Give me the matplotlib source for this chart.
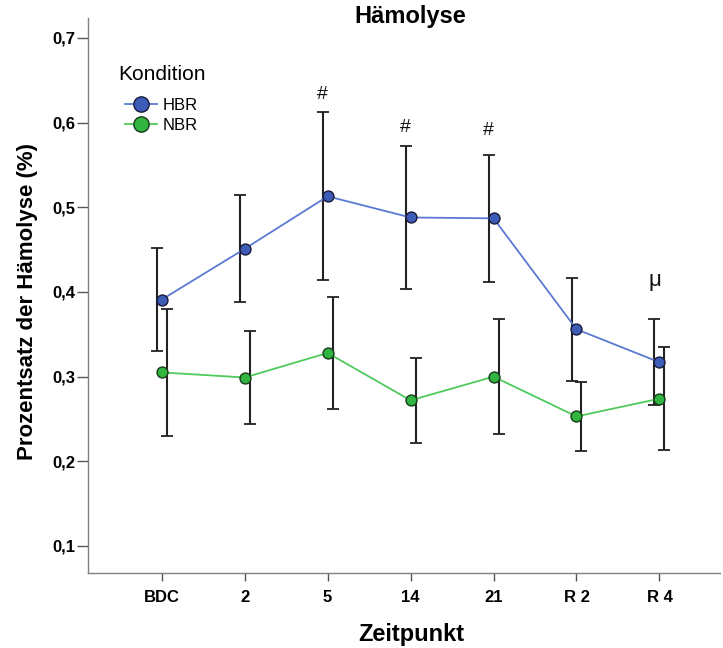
import numpy as np
import matplotlib
matplotlib.use("Agg")
import matplotlib.pyplot as plt

plt.rcParams['font.family'] = ['Liberation Sans', 'DejaVu Sans']

# data (mean and 95% CI half-width)
zeitpunkte = ["BDC", "2", "5", "14", "21", "R 2", "R 4"]
hbr_mean = [0.391, 0.451, 0.513, 0.488, 0.487, 0.356, 0.317]
hbr_ci = [0.061, 0.063, 0.099, 0.084, 0.075, 0.061, 0.051]
nbr_mean = [0.305, 0.299, 0.328, 0.272, 0.300, 0.253, 0.274]
nbr_ci = [0.075, 0.055, 0.066, 0.050, 0.068, 0.041, 0.061]

y_ticks = [0.1, 0.2, 0.3, 0.4, 0.5, 0.6, 0.7]
y_ticklabels = ["0,1", "0,2", "0,3", "0,4", "0,5", "0,6", "0,7"]

# significance marks: (index, symbol, y value)
marks = [(2, "#", 0.633), (3, "#", 0.594), (4, "#", 0.591), (6, "\u03bc", 0.413)]

blue_fill = "#3d5cb8"
blue_line = "#5b79d2"
green_fill = "#2fb540"
green_line = "#4fca5c"
err_color = "#222222"

W, H = 723, 648
fig = plt.figure(figsize=(W / 100, H / 100), dpi=100)
# axes box in pixels: left 88, right 720, top 18, bottom 573
ax = fig.add_axes([88 / W, 1 - 573 / H, (720 - 88) / W, (573 - 18) / H])

x = np.arange(len(zeitpunkte))
off = 0.06

ax.errorbar(x - off, hbr_mean, yerr=hbr_ci, fmt="none", ecolor=err_color,
            elinewidth=1.5, capsize=4.5, capthick=1.3, zorder=2)
ax.errorbar(x + off, nbr_mean, yerr=nbr_ci, fmt="none", ecolor=err_color,
            elinewidth=1.5, capsize=4.5, capthick=1.3, zorder=2)

ax.plot(x, hbr_mean, color=blue_line, lw=1.3, zorder=3)
ax.plot(x, nbr_mean, color=green_line, lw=1.3, zorder=3)
ax.scatter(x, hbr_mean, s=62, color=blue_fill, edgecolor="#1a1a3a", lw=1.0, zorder=4)
ax.scatter(x, nbr_mean, s=62, color=green_fill, edgecolor="#1a3a1a", lw=1.0, zorder=4)

for i, sym, yv in marks:
    fs = 16 if sym == "\u03bc" else 14
    ax.text(x[i] - off, yv, sym, ha="center", va="center", fontsize=fs, color="#111111")

ax.set_xlim(-0.889, 6.73)
ax.set_ylim(0.0681, 0.7236)
ax.set_xticks(x)
ax.set_xticklabels(zeitpunkte, fontsize=12, fontweight="bold")
ax.set_yticks(y_ticks)
ax.set_yticklabels(y_ticklabels, fontsize=12, fontweight="bold")
ax.tick_params(axis="x", direction="out", length=6, width=1, color="#555555", pad=6)
ax.tick_params(axis="y", direction="out", length=8, width=1, color="#555555", pad=1)

for s in ["top", "right"]:
    ax.spines[s].set_visible(False)
for s in ["left", "bottom"]:
    ax.spines[s].set_color("#808080")
    ax.spines[s].set_linewidth(1.0)

fig.text(410 / W, 1 - 17 / H, "Hämolyse", fontsize=17, fontweight="bold",
         ha="center", va="center")
ax.set_ylabel("Prozentsatz der Hämolyse (%)", fontsize=16, fontweight="bold")
ax.yaxis.set_label_coords(-0.079, 0.49)
ax.set_xlabel("Zeitpunkt", fontsize=17, fontweight="bold")
ax.xaxis.set_label_coords(0.511, -0.09)

fig.text(118 / W, 1 - 75 / H, "Kondition", fontsize=15, ha="left", va="center")
h1, = ax.plot([], [], color=blue_line, lw=1.3, marker="o", markersize=11,
              markerfacecolor=blue_fill, markeredgecolor="#1a1a3a")
h2, = ax.plot([], [], color=green_line, lw=1.3, marker="o", markersize=11,
              markerfacecolor=green_fill, markeredgecolor="#1a3a1a")
fig.legend([h1, h2], ["HBR", "NBR"], loc="upper left",
           bbox_to_anchor=(125 / W, 1 - 98 / H), frameon=False, fontsize=12,
           handlelength=1.9, handletextpad=0.36, labelspacing=0.28,
           borderpad=0, borderaxespad=0)

fig.savefig("out.png", dpi=100)
